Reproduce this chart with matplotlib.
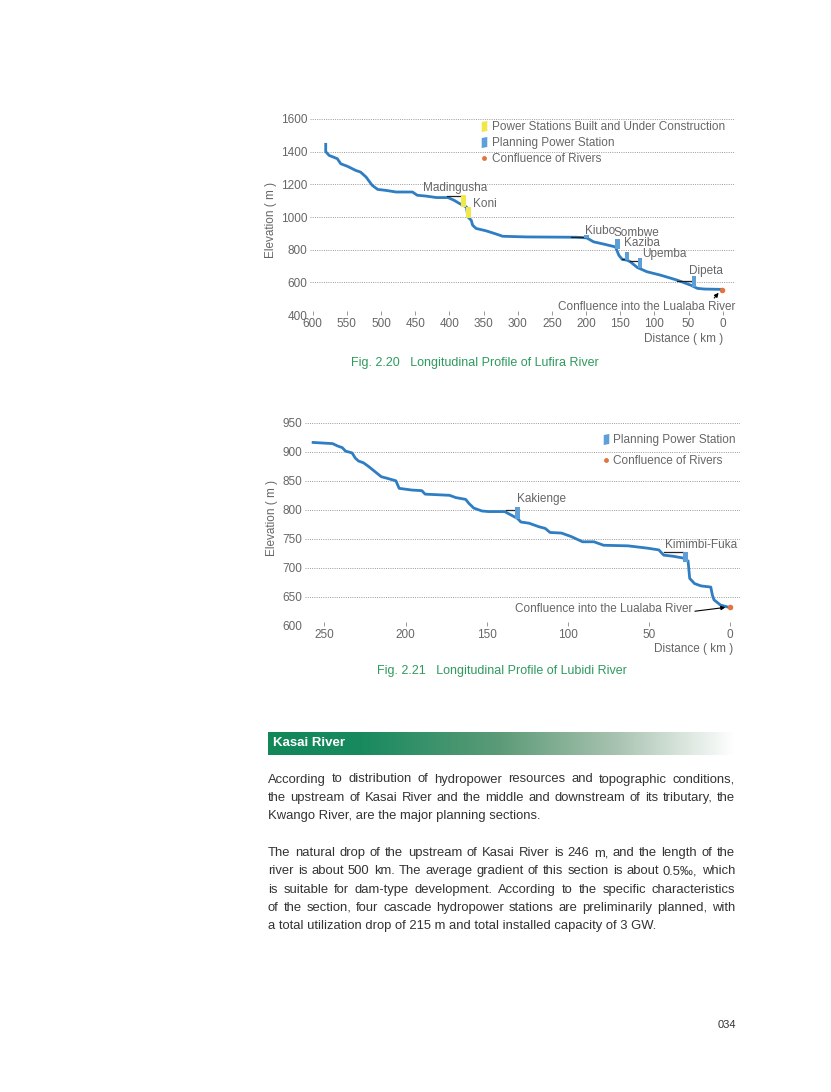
import matplotlib
matplotlib.use('Agg')
import matplotlib.pyplot as plt
from matplotlib.lines import Line2D
from matplotlib.colors import LinearSegmentedColormap
import numpy as np

plt.rcParams['font.family'] = ['Liberation Sans', 'DejaVu Sans']

# ---- Fig. 2.20  Lufira River (distance to mouth km, elevation m)
lufira_km = [581, 581, 576, 564, 559, 549, 537, 530, 522, 513, 505, 493, 478, 454,
             447, 434, 419, 402, 393, 385, 375, 373, 368, 366, 361, 346, 331, 322,
             287, 214, 199, 189, 174, 157, 155, 152, 147, 140, 135, 125, 111, 91,
             67, 47, 37, 27, 3]
lufira_elev = [1445, 1400, 1377, 1357, 1326, 1310, 1285, 1275, 1245, 1194, 1169, 1163,
               1153, 1153, 1133, 1128, 1119, 1119, 1102, 1082, 1061, 1000, 980, 950,
               930, 915, 895, 882, 878, 876, 872, 848, 834, 817, 797, 766, 740, 736,
               725, 691, 665, 644, 614, 583, 563, 559, 557]
lufira_xticks = [600, 550, 500, 450, 400, 350, 300, 250, 200, 150, 100, 50, 0]
lufira_yticks = [400, 600, 800, 1000, 1200, 1400, 1600]
lufira_st_names = ['Madingusha', 'Koni', 'Kiubo', 'Sombwe', 'Kaziba', 'Upemba', 'Dipeta']
lufira_st_km = [379, 372, 199, 154, 140, 121, 42]
lufira_st_low = [1061, 993, 870, 807, 736, 685, 573]
lufira_st_high = [1133, 1060, 890, 868, 787, 746, 638]
lufira_st_built = [True, True, False, False, False, False, False]
lufira_mouth = (1, 555)

# ---- Fig. 2.21  Lubidi River
lubidi_km = [257, 245, 242, 239, 237, 233, 231, 229, 226, 223, 219, 215, 211, 206,
             204, 196, 190, 188, 173, 169, 163, 161, 158, 153, 149, 139, 135, 131,
             129, 124, 118, 114, 111, 104, 98, 91, 84, 78, 63, 51, 44, 41, 35, 29,
             26, 25, 22, 18, 12, 11, 10, 6, 2]
lubidi_elev = [916, 914, 910, 907, 901, 898, 889, 884, 881, 875, 866, 857, 854, 850,
               837, 834, 833, 827, 825, 821, 818, 811, 803, 798, 797, 797, 791, 785,
               779, 777, 771, 768, 761, 760, 754, 745, 745, 739, 738, 734, 731, 722,
               720, 717, 712, 682, 673, 669, 667, 653, 645, 636, 633]
lubidi_xticks = [250, 200, 150, 100, 50, 0]
lubidi_yticks = [600, 650, 700, 750, 800, 850, 900, 950]
lubidi_st_names = ['Kakienge', 'Kimimbi-Fuka']
lubidi_st_km = [131, 27.5]
lubidi_st_low = [785, 711]
lubidi_st_high = [805, 728]
lubidi_st_built = [False, False]
lubidi_mouth = (0, 633)

RIVER = '#2f7dc2'
PLAN = '#5f9fd8'
BUILT = '#f1e64a'
DOT = '#e3733f'
GREY = '#666666'
GREEN = '#2e9a5e'

W, H = 831, 1092
fig = plt.figure(figsize=(W / 100, H / 100), dpi=100)

# slanted little bar used for the station markers in the legend
bar_marker = [(-0.5, -1.0), (0.5, -0.8), (0.5, 1.0), (-0.5, 0.8), (-0.5, -1.0)]


def px_axes(left, top, right, bottom):
    return fig.add_axes([left / W, 1 - bottom / H, (right - left) / W, (bottom - top) / H])


def profile(ax, km, elev, xt, yt, xlim, names, skm, low, high, built, bw, mouth):
    for y in yt:
        ax.axhline(y, color='#9a9a9a', ls=(0, (1, 1.3)), lw=0.7, zorder=1)
    ax.plot(km, elev, color=RIVER, lw=2.0, solid_joinstyle='round', zorder=3)
    cols = [BUILT if b else PLAN for b in built]
    hts = [h - l for h, l in zip(high, low)]
    ax.bar(skm, hts, bottom=low, width=bw, color=cols, zorder=4, linewidth=0)
    ax.scatter([mouth[0]], [mouth[1]], s=16, color=DOT, zorder=5, linewidths=0)
    ax.set_xlim(xlim)
    ax.set_ylim(yt[0], yt[-1])
    ax.set_xticks(xt)
    ax.set_yticks(yt)
    for s in ax.spines.values():
        s.set_visible(False)
    ax.tick_params(axis='x', direction='in', length=3, width=0.6, color='#888',
                   pad=2, labelsize=8.5, labelcolor=GREY)
    ax.tick_params(axis='y', length=0, pad=2, labelsize=8.5, labelcolor=GREY)
    ax.set_ylabel('Elevation ( m )', fontsize=8.5, color=GREY)
    ax.set_xlabel('Distance ( km )', fontsize=8.5, color=GREY)
    ax.patch.set_alpha(0)


def label(ax, text, x, y, ha='left'):
    ax.text(x, y, text, fontsize=8.5, color=GREY, ha=ha, va='center', zorder=6)


def leader(ax, x0, x1, y):
    ax.plot([x0, x1], [y, y], color='#222222', lw=0.9, zorder=3.5)


# ---------------- chart 1
ax1 = px_axes(310, 119, 735, 315)
profile(ax1, lufira_km, lufira_elev, lufira_xticks, lufira_yticks, (604, -18),
        lufira_st_names, lufira_st_km, lufira_st_low, lufira_st_high,
        lufira_st_built, 7, lufira_mouth)
ax1.yaxis.set_label_coords(-0.078, 0.485)
ax1.xaxis.set_label_coords(0.972, -0.09)
ax1.xaxis.label.set_ha('right')
leader(ax1, 403, 382, 1127)
leader(ax1, 222, 202, 877)
leader(ax1, 148, 142, 745)
leader(ax1, 135, 124, 730)
leader(ax1, 67, 45, 607)
label(ax1, 'Madingusha', 391, 1175, ha='center')
label(ax1, 'Koni', 366, 1078)
label(ax1, 'Kiubo', 201, 915)
label(ax1, 'Sombwe', 160, 899)
label(ax1, 'Kaziba', 144, 838)
label(ax1, 'Upemba', 118, 771)
label(ax1, 'Dipeta', 49, 670)
ax1.annotate('Confluence into the Lualaba River', xy=(6, 536), xytext=(-18, 450),
             ha='right', va='center', fontsize=8.5, color=GREY,
             arrowprops=dict(arrowstyle='-|>', color='black', lw=0.8,
                             shrinkA=0, shrinkB=0, mutation_scale=6,
                             relpos=(0.87, 1.0)))
h1 = [Line2D([], [], ls='none', marker=bar_marker, ms=8, mfc=BUILT, mec='none'),
      Line2D([], [], ls='none', marker=bar_marker, ms=8, mfc=PLAN, mec='none'),
      Line2D([], [], ls='none', marker='o', ms=3.5, mfc=DOT, mec='none')]
lg1 = ax1.legend(h1, ['Power Stations Built and Under Construction',
                      'Planning Power Station', 'Confluence of Rivers'],
                 loc='upper left', bbox_to_anchor=(0.402, 0.99), frameon=False,
                 fontsize=8.5, handlelength=0.6, handletextpad=0.35,
                 labelspacing=0.35, borderpad=0, borderaxespad=0)
for t in lg1.get_texts():
    t.set_color(GREY)

fig.text(475 / W, 1 - 363 / H, 'Fig. 2.20   Longitudinal Profile of Lufira River',
         ha='center', va='center', fontsize=9, color=GREEN)

# ---------------- chart 2
ax2 = px_axes(305, 422.7, 740, 626)
profile(ax2, lubidi_km, lubidi_elev, lubidi_xticks, lubidi_yticks, (262, -6),
        lubidi_st_names, lubidi_st_km, lubidi_st_low, lubidi_st_high,
        lubidi_st_built, 3, lubidi_mouth)
ax2.yaxis.set_label_coords(-0.062, 0.53)
ax2.xaxis.set_label_coords(0.984, -0.085)
ax2.xaxis.label.set_ha('right')
leader(ax2, 138, 132, 800)
leader(ax2, 41, 29, 727)
label(ax2, 'Kakienge', 131.6, 818)
label(ax2, 'Kimimbi-Fuka', 40, 739)
ax2.annotate('Confluence into the Lualaba River', xy=(3, 632), xytext=(23.5, 629),
             ha='right', va='center', fontsize=8.5, color=GREY,
             arrowprops=dict(arrowstyle='-|>', color='black', lw=0.8,
                             shrinkA=0, shrinkB=0, mutation_scale=6,
                             relpos=(1.0, 0.3)))
h2 = h1[1:]
lg2 = ax2.legend(h2, ['Planning Power Station', 'Confluence of Rivers'],
                 loc='upper left', bbox_to_anchor=(0.683, 0.945), frameon=False,
                 fontsize=8.5, handlelength=0.6, handletextpad=0.3,
                 labelspacing=0.75, borderpad=0, borderaxespad=0)
for t in lg2.get_texts():
    t.set_color(GREY)

fig.text(502 / W, 1 - 671 / H, 'Fig. 2.21   Longitudinal Profile of Lubidi River',
         ha='center', va='center', fontsize=9, color=GREEN)

# ---------------- section header with green gradient
hax = px_axes(268, 731.7, 735, 755)
cmap = LinearSegmentedColormap.from_list(
    'hdr', [(0, '#11875a'), (0.2, '#198a5f'), (0.5, '#5d9b78'),
            (0.75, '#a9c3b1'), (1.0, '#ffffff')])
hax.imshow(np.linspace(0, 1, 256)[None, :], aspect='auto', cmap=cmap,
           extent=(0, 1, 0, 1))
hax.set_axis_off()
hax.text(0.01, 0.5, 'Kasai River', color='white', fontweight='bold',
         fontsize=9.5, va='center', ha='left', transform=hax.transAxes)

# ---------------- body text, justified
para1 = ['According to distribution of hydropower resources and topographic conditions,',
         'the upstream of Kasai River and the middle and downstream of its tributary, the',
         'Kwango River, are the major planning sections.']
para2 = ['The natural drop of the upstream of Kasai River is 246 m, and the length of the',
         'river is about 500 km. The average gradient of this section is about 0.5\u2030, which',
         'is suitable for dam-type development. According to the specific characteristics',
         'of the section, four cascade hydropower stations are preliminarily planned, with',
         'a total utilization drop of 215 m and total installed capacity of 3 GW.']

renderer = fig.canvas.get_renderer()
body = dict(fontsize=9.4, color='#333333', va='baseline', ha='left')


def write_para(lines, y_first, dy, x0=268, x1=735):
    for i, line in enumerate(lines):
        y = 1 - (y_first + i * dy) / H
        if i == len(lines) - 1:
            fig.text(x0 / W, y, line, **body)
            continue
        words = line.split(' ')
        widths = []
        for w in words:
            t = fig.text(0, 0, w, **body)
            widths.append(t.get_window_extent(renderer).width)
            t.remove()
        gap = (x1 - x0 - sum(widths)) / (len(words) - 1)
        x = x0
        for w, wd in zip(words, widths):
            fig.text(x / W, y, w, **body)
            x += wd + gap


write_para(para1, 782.5, 18.1)
write_para(para2, 856, 18.3)

fig.text(727 / W, 1 - 1025 / H, '034', ha='center', va='center', fontsize=8, color='#333333')

fig.savefig('out.png', dpi=100)
